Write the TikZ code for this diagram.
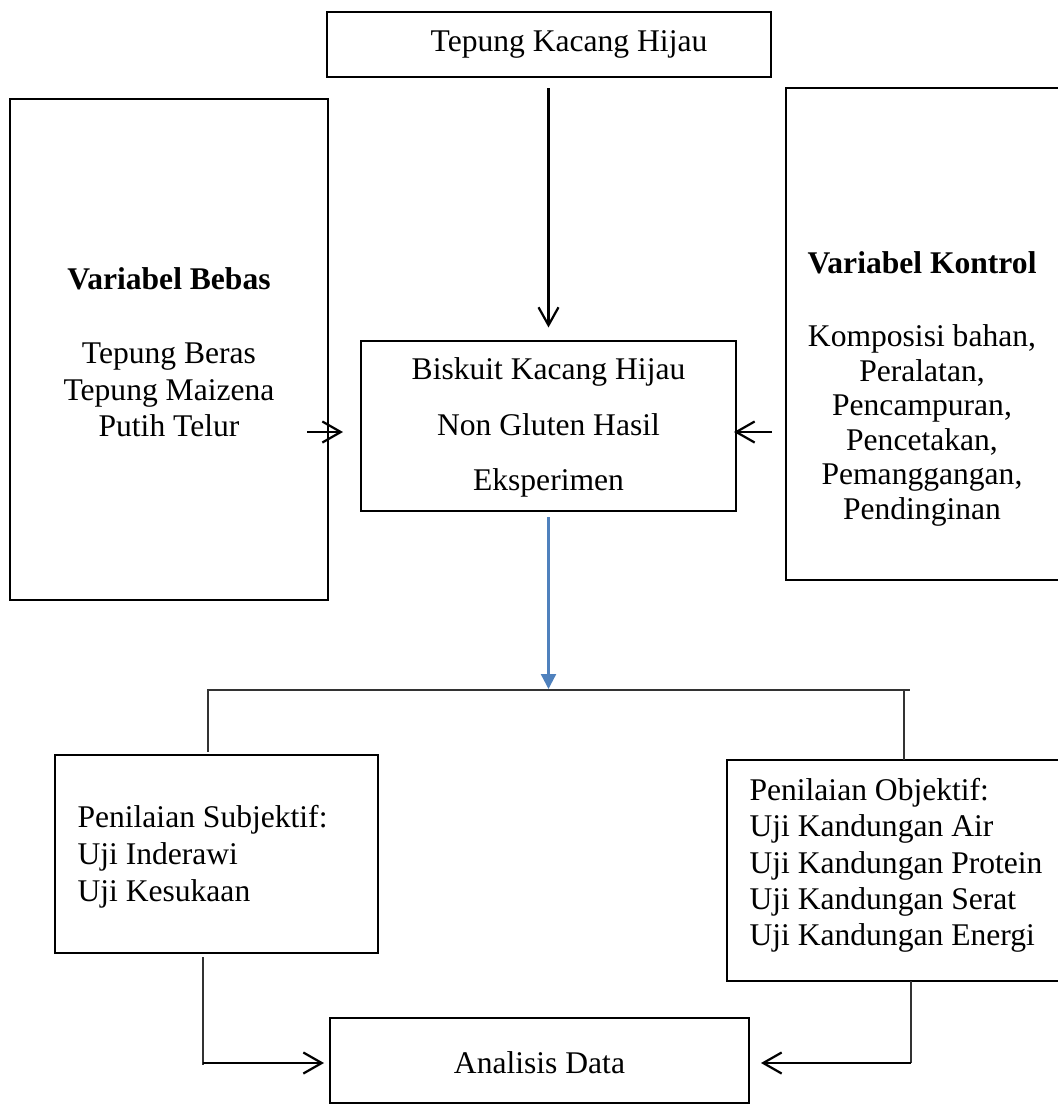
\documentclass[tikz,border=0pt]{standalone}
\usepackage{fontspec}
\setmainfont{Liberation Serif}
\usetikzlibrary{arrows.meta,fit}
\definecolor{arrowblue}{RGB}{79,129,189}
\tikzset{
  boxline/.style={draw=black, line width=1.1pt, inner sep=0pt, fit={#1}},
  txt/.style={inner sep=0pt, font=\fontsize{12}{13.8}\selectfont},
  arr/.style={draw=black, line width=0.85pt, -{Straight Barb[length=7pt,width=8pt,line width=0.85pt]}},
  conn/.style={draw=black!80, line width=0.55pt},
  bluearr/.style={draw=arrowblue, line width=0.9pt, -{Triangle[length=5.7pt,width=5.7pt]}}
}
\begin{document}
\begin{tikzpicture}[x=0.38pt,y=-0.38pt]
\useasboundingbox (0,0) rectangle (1058,1105);
% boxes
\node[boxline={(327,12) (771,77)}] (tb) {};
\node[boxline={(10,99) (328,600)}] (lb) {};
\node[boxline={(786,88) (1070,580)}] (rb) {};
\node[boxline={(361,341) (736,511)}] (mid) {};
\node[boxline={(55,755) (378,953)}] (sb) {};
\node[boxline={(727,760) (1070,981)}] (ob) {};
\node[boxline={(330,1018) (749,1103)}] (ad) {};
% texts
\node[txt] (tbt) at (569,44) {Tepung Kacang Hijau};
\node[txt, align=center] (lbt) at (169,352) {\textbf{Variabel Bebas}\\[14.5pt]Tepung Beras\\Tepung Maizena\\Putih Telur};
\node[txt, align=center, font=\fontsize{12}{13.1}\selectfont] (rbt) at (922,389) {\textbf{Variabel Kontrol}\\[14.7pt]Komposisi bahan,\\Peralatan,\\Pencampuran,\\Pencetakan,\\Pemanggangan,\\Pendinginan};
\node[txt, align=center, font=\fontsize{12}{21.2}\selectfont] (midt) at (548.5,427.5) {Biskuit Kacang Hijau\\Non Gluten Hasil\\Eksperimen};
\node[txt, align=left, anchor=west, font=\fontsize{12}{14.1}\selectfont] (sbt) at (77,857) {Penilaian Subjektif:\\Uji Inderawi\\Uji Kesukaan};
\node[txt, align=left, anchor=west, font=\fontsize{12}{13.8}\selectfont] (obt) at (749,865.5) {Penilaian Objektif:\\Uji Kandungan Air\\Uji Kandungan Protein\\Uji Kandungan Serat\\Uji Kandungan Energi};
\node[txt] (adt) at (539.5,1063) {Analisis Data};
% connectors
\draw[arr, -{Straight Barb[length=6.8pt,width=7.6pt,line width=0.85pt]}, shorten <=3.8pt, shorten >=4.6pt] (tb.south -| mid.north) -- (mid.north);
\coordinate (la1) at (307,432);
\coordinate (la2) at (343,432);
\draw[arr] (la1) -- (la2);
\coordinate (ra1) at (772,432);
\coordinate (ra2) at (734,432);
\draw[arr] (ra1) -- (ra2);
\coordinate (split) at (548.5,689);
\draw[bluearr, shorten <=1.9pt] (mid.south) -- (split);
\coordinate (hl) at (207,690);
\coordinate (hr) at (910,690);
\draw[conn] (hl) -- (hr);
\coordinate (sl) at (208,752);
\coordinate (sr) at (904,760);
\draw[conn] (208,690) -- (sl);
\draw[conn] (904,690) -- (sr);
\coordinate (bl1) at (203,957);
\coordinate (bl2) at (324,1063);
\draw[conn] (bl1) -- (203,1065);
\draw[arr] (203,1063) -- (bl2);
\coordinate (br1) at (911,981);
\coordinate (br2) at (761,1063);
\draw[conn] (br1) -- (911,1063);
\draw[arr] (911,1063) -- (br2);
\end{tikzpicture}
\end{document}
